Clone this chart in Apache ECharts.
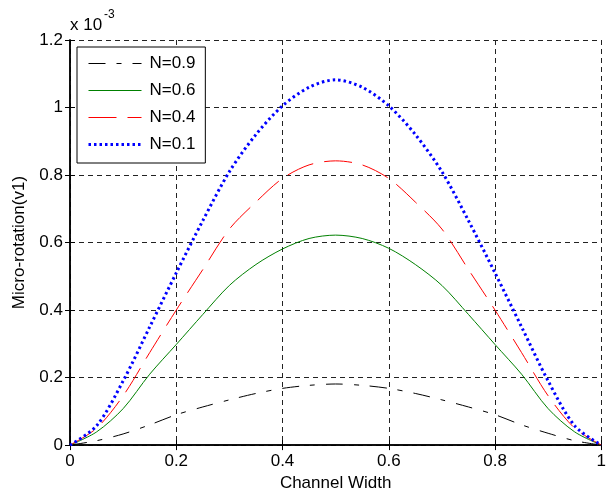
<!DOCTYPE html>
<html>
<head>
<meta charset="utf-8">
<script src="https://cdn.jsdelivr.net/npm/echarts@6/dist/echarts.min.js"></script>
<style>
html,body{margin:0;padding:0;background:#fff;}
#chart{width:609px;height:497px;}
</style>
</head>
<body>
<div id="chart"></div>
<script>
// Channel width positions
var xs = [0, 0.05, 0.1, 0.15, 0.2, 0.25, 0.3, 0.35, 0.4, 0.45, 0.5, 0.55, 0.6, 0.65, 0.7, 0.75, 0.8, 0.85, 0.9, 0.95, 1];
// Micro-rotation values (x 10^-3)
var n09 = [0, 0.013, 0.033, 0.06, 0.09, 0.113, 0.134, 0.153, 0.168, 0.177, 0.181, 0.177, 0.168, 0.153, 0.134, 0.113, 0.09, 0.06, 0.035, 0.013, 0];
var n06 = [0, 0.039, 0.108, 0.21, 0.298, 0.387, 0.473, 0.535, 0.581, 0.612, 0.622, 0.612, 0.583, 0.535, 0.473, 0.387, 0.298, 0.21, 0.108, 0.039, 0];
var n04 = [0, 0.05, 0.146, 0.274, 0.40, 0.52, 0.64, 0.72, 0.79, 0.83, 0.842, 0.83, 0.79, 0.72, 0.64, 0.52, 0.40, 0.274, 0.146, 0.05, 0];
var n01 = [0, 0.057, 0.19, 0.35, 0.51, 0.665, 0.81, 0.92, 1.005, 1.06, 1.082, 1.06, 1.005, 0.92, 0.81, 0.665, 0.51, 0.35, 0.19, 0.057, 0];
var seriesNames = ['N=0.9', 'N=0.6', 'N=0.4', 'N=0.1'];
var xTicks = [0, 0.2, 0.4, 0.6, 0.8, 1];
var yTicks = [0, 0.2, 0.4, 0.6, 0.8, 1, 1.2];

function pairs(v){ return xs.map(function(x,i){ return [x, v[i]]; }); }

var FONT = 'Liberation Sans, Arial, Helvetica, sans-serif';
var chart = echarts.init(document.getElementById('chart'), null, {renderer:'canvas'});

var gridDash = {show:true, lineStyle:{color:'#222', width:1, type:[5,4]}};
var tick = {show:true, inside:true, length:5, lineStyle:{color:'#000', width:1}};

chart.setOption({
  animation:false,
  backgroundColor:'#fff',
  grid:{left:70, right:2, top:40, bottom:51, containLabel:false},
  graphic:[
    {type:'text', left:70, top:17, style:{text:'x 10', font:'17px '+FONT, fill:'#000'}},
    {type:'text', left:104, top:9, style:{text:'-3', font:'12px '+FONT, fill:'#000'}}
  ],
  legend:{
    orient:'vertical', left:77, top:47,
    padding:[8,10,10,10], itemGap:10, itemWidth:53, itemHeight:15,
    backgroundColor:'#fff', borderColor:'#000', borderWidth:1, borderRadius:0,
    itemStyle:{opacity:0},
    lineStyle:{width:'inherit', type:'inherit'},
    textStyle:{fontSize:17, fontFamily:FONT, color:'#000', padding:[0,0,0,3]},
    data:seriesNames
  },
  xAxis:[
    {type:'value', min:0, max:1, interval:0.2, position:'bottom',
     name:'Channel Width', nameLocation:'middle', nameGap:29,
     nameTextStyle:{fontSize:17, fontFamily:FONT, color:'#000'},
     axisLine:{show:true, lineStyle:{color:'#000', width:1.5}},
     axisTick:tick,
     axisLabel:{fontSize:17, fontFamily:FONT, color:'#000', margin:8,
       formatter:function(v){ return xTicks.indexOf(+v.toFixed(1))>=0 ? String(+v.toFixed(1)) : ''; }},
     splitLine:gridDash},
    {type:'value', min:0, max:1, interval:0.2, position:'top',
     axisLine:{show:true, lineStyle:{color:'#000', width:1.5}},
     axisTick:tick, axisLabel:{show:false}, splitLine:{show:false}}
  ],
  yAxis:[
    {type:'value', min:0, max:1.2, interval:0.2, position:'left',
     name:'Micro-rotation(v1)', nameLocation:'middle', nameGap:42,
     nameTextStyle:{fontSize:17, fontFamily:FONT, color:'#000'},
     axisLine:{show:true, lineStyle:{color:'#000', width:1.5}},
     axisTick:tick,
     axisLabel:{fontSize:17, fontFamily:FONT, color:'#000', margin:7,
       formatter:function(v){ var r=+v.toFixed(1); return yTicks.indexOf(r)>=0 ? String(r) : ''; }},
     splitLine:gridDash},
    {type:'value', min:0, max:1.2, interval:0.2, position:'right',
     axisLine:{show:true, lineStyle:{color:'#000', width:1.5}},
     axisTick:tick, axisLabel:{show:false}, splitLine:{show:false}}
  ],
  series:[
    {name:seriesNames[0], type:'line', data:pairs(n09), smooth:0.3, showSymbol:false, symbol:'none',
     color:'#000', lineStyle:{color:'#000', width:1, type:[17,11,5,11]}},
    {name:seriesNames[1], type:'line', data:pairs(n06), smooth:0.3, showSymbol:false, symbol:'none',
     color:'#008000', lineStyle:{color:'#008000', width:1, type:'solid'}},
    {name:seriesNames[2], type:'line', data:pairs(n04), smooth:0.3, showSymbol:false, symbol:'none',
     color:'#ff0000', lineStyle:{color:'#ff0000', width:1, type:[28,11]}},
    {name:seriesNames[3], type:'line', data:pairs(n01), smooth:0.3, showSymbol:false, symbol:'none',
     color:'#0000ff', lineStyle:{color:'#0000ff', width:3, type:[2.5,3]}}
  ]
});
</script>
</body>
</html>
